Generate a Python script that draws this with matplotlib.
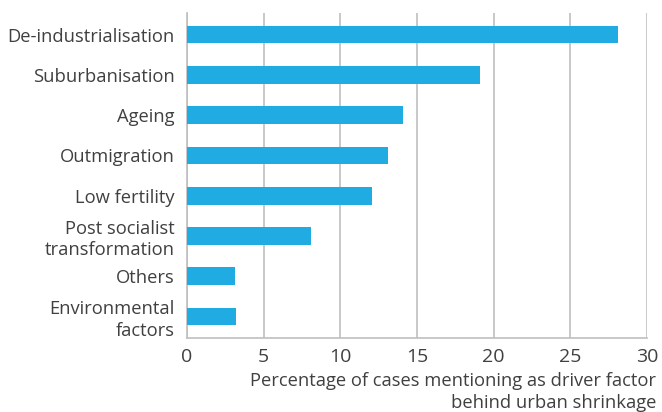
import matplotlib.pyplot as plt

# drivers of urban shrinkage (share of cases, %)
facteurs = ["De-industrialisation", "Suburbanisation", "Ageing", "Outmigration",
            "Low fertility", "Post socialist\ntransformation", "Others",
            "Environmental\nfactors"]
pourcentages = [28.1, 19.1, 14.1, 13.1, 12.1, 8.1, 3.1, 3.2]
graduations = [0, 5, 10, 15, 20, 25, 30]

plt.rcParams['font.family'] = ['Open Sans', 'DejaVu Sans']
gris_texte = '#404040'
gris_ligne = '#bfbfbf'

fig, ax = plt.subplots(figsize=(6.62, 4.12), dpi=100)
fig.subplots_adjust(left=0.2825, right=0.977, top=0.968, bottom=0.18)

positions = list(range(len(facteurs)))
ax.barh(positions, pourcentages, height=0.44, color='#20abe2', zorder=3)

ax.set_ylim(7.53, -0.53)
ax.set_xlim(0, 30)
ax.set_xticks(graduations)
ax.set_yticks(positions)
ax.set_yticklabels(facteurs, ha='right', multialignment='right', linespacing=1.25)

ax.grid(axis='x', color=gris_ligne, linewidth=1.2, zorder=0)
for cote in ['top', 'right']:
    ax.spines[cote].set_visible(False)
for cote in ['left', 'bottom']:
    ax.spines[cote].set_color(gris_ligne)
    ax.spines[cote].set_linewidth(1.2)

ax.tick_params(axis='y', length=0, labelsize=13.2, colors=gris_texte, pad=9)
ax.tick_params(axis='x', length=0, labelsize=14, colors=gris_texte, pad=7)

ax.set_xlabel("Percentage of cases mentioning as driver factor\nbehind urban shrinkage",
              fontsize=13.2, color=gris_texte, ha='right',
              multialignment='right', linespacing=1.3)
ax.xaxis.set_label_coords(1.02, -0.105, transform=ax.transAxes)
ax.xaxis.label.set_va('top')

plt.savefig("out.png", dpi=100)
